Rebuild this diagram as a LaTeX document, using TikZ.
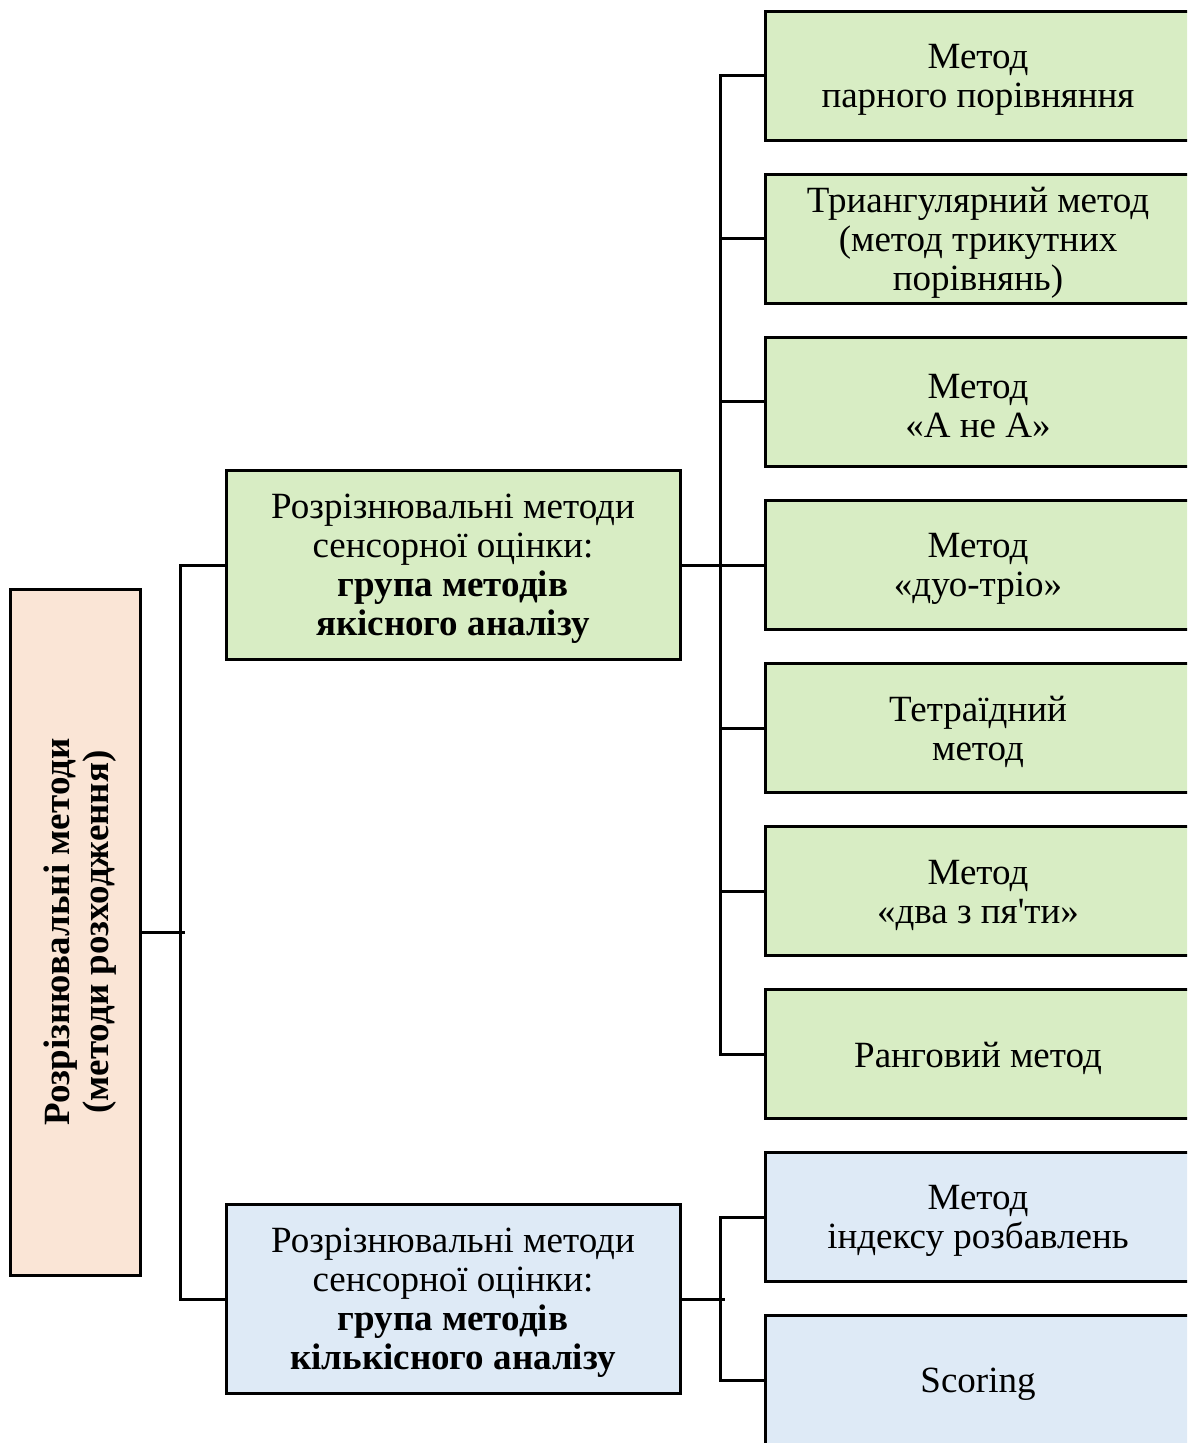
\documentclass[tikz,border=0pt]{standalone}
\usepackage{fontspec}
\setmainfont{Liberation Serif}[Ligatures=TeXOff]
\begin{document}
\definecolor{qualfill}{RGB}{216,237,196}
\definecolor{quantfill}{RGB}{222,234,246}
\definecolor{rootfill}{RGB}{250,229,214}
\tikzset{
  box/.style={draw=black, line width=1.5pt, inner sep=0pt},
  leafbox/.style={box, minimum width=213pt, minimum height=64.5pt},
  groupbox/.style={box, minimum width=227pt, minimum height=94.5pt},
  txt/.style={align=center, inner sep=0pt,
    font=\fontsize{18.5pt}{19.5pt}\selectfont},
  link/.style={draw=black, line width=1.5pt, line cap=rect},
}
\begin{tikzpicture}[x=0.5pt,y=-0.5pt]
  \useasboundingbox (0,0) rectangle (1187,1443);
  \clip (0,0) rectangle (1187,1443);
  \fill[white] (0,0) rectangle (1187,1443);

  % root box with rotated bold caption
  \node[box, fill=rootfill, minimum width=65pt, minimum height=343pt] (root) at (75,932) {};
  \node[txt, rotate=90, font=\fontsize{18.5pt}{19.5pt}\selectfont\bfseries]
    (rootT) at ([xshift=2.5pt]root.center)
    {Розрізнювальні методи\\(методи розходження)};

  % two group boxes
  \node[groupbox, fill=qualfill] (qual) at (453,565) {};
  \node[txt] (qualT) at ([yshift=-2pt]qual.center)
    {Розрізнювальні методи\\сенсорної оцінки:\\\textbf{група методів}\\\textbf{якісного аналізу}};
  \node[groupbox, fill=quantfill] (quant) at (453,1299) {};
  \node[txt] (quantT) at ([yshift=-2pt]quant.center)
    {Розрізнювальні методи\\сенсорної оцінки:\\\textbf{група методів}\\\textbf{кількісного аналізу}};

  % method boxes: name / centre y / fill / caption
  \foreach \nm/\yy/\fc/\cap in {
      q1/76/qualfill/{Метод\\парного порівняння},
      q2/239/qualfill/{Триангулярний метод\\(метод трикутних\\порівнянь)},
      q3/402/qualfill/{Метод\\«А не А»},
      q4/565/qualfill/{Метод\\«дуо-тріо»},
      q5/728/qualfill/{Тетраїдний\\метод},
      q6/891/qualfill/{Метод\\«два з пя'ти»},
      q7/1054/qualfill/{Ранговий метод},
      k1/1217/quantfill/{Метод\\індексу розбавлень},
      k2/1380/quantfill/{Scoring}} {
    \node[leafbox, fill=\fc] (\nm) at (978,\yy) {};
    \node[txt] (\nm T) at ([yshift=-2pt]\nm.center) {\cap};
  }

  % connectors: root to groups
  \draw[link] (root.east) -- ++(42,0);
  \draw[link] (qual.west) -- ++(-44,0) |- (quant.west);

  % connectors: qualitative group to its methods
  \draw[link] (q1.west) -- ++(-43,0) |- (q7.west);
  \foreach \n in {q2,q3,q4,q5,q6}
    \draw[link] (\n.west) -- ++(-43,0);
  \draw[link] (qual.east) -- (q4.west);

  % connectors: quantitative group to its methods
  \draw[link] (k1.west) -- ++(-43,0) |- (k2.west);
  \draw[link] (quant.east) -- ++(42,0);
\end{tikzpicture}
\end{document}
